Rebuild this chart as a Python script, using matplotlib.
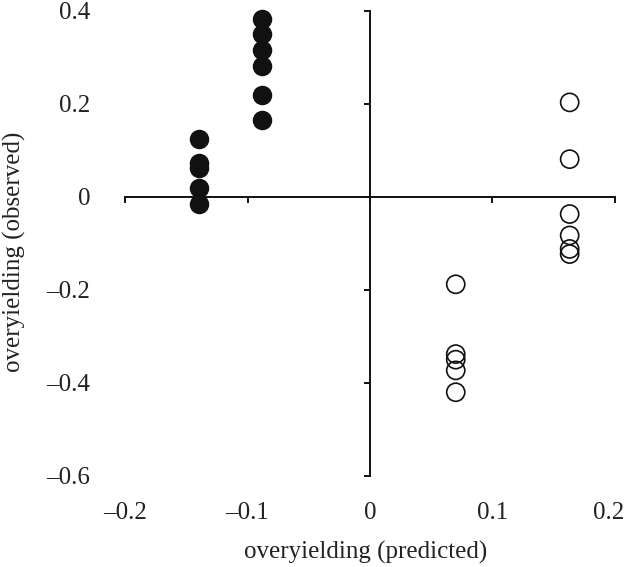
import matplotlib.pyplot as plt
import matplotlib.transforms as mtransforms

plt.rcParams['font.family'] = ['Liberation Serif', 'DejaVu Serif']

# filled: negative predicted overyielding
filled_x = [-0.14, -0.14, -0.14, -0.14, -0.14,
            -0.088, -0.088, -0.088, -0.088, -0.088, -0.088]
filled_y = [0.124, 0.072, 0.062, 0.019, -0.015,
            0.383, 0.35, 0.316, 0.282, 0.219, 0.166]

# open: positive predicted overyielding
open_x = [0.07, 0.07, 0.07, 0.07, 0.07,
          0.163, 0.163, 0.163, 0.163, 0.163, 0.163]
open_y = [-0.188, -0.338, -0.35, -0.373, -0.42,
          0.203, 0.081, -0.037, -0.083, -0.112, -0.123]

x_ticks = [-0.2, -0.1, 0, 0.1, 0.2]
y_ticks = [-0.6, -0.4, -0.2, 0, 0.2, 0.4]
x_labels = ['\u20130.2', '\u20130.1', '0', '0.1', '0.2']
y_labels = ['\u20130.6', '\u20130.4', '\u20130.2', '0', '0.2', '0.4']

fig = plt.figure(figsize=(6.26, 5.67), dpi=100)
rect = [0.1997, 0.1605, 0.7827, 0.8206]

# label axes (labels sit at the outer edges)
lab = fig.add_axes(rect)
lab.set_xlim(-0.2, 0.2)
lab.set_ylim(-0.6, 0.4)
for s in lab.spines.values():
    s.set_visible(False)
lab.set_xticks(x_ticks)
lab.set_xticklabels(x_labels)
lab.set_yticks(y_ticks)
lab.set_yticklabels(y_labels)
lab.tick_params(length=0, labelsize=18, colors='#222222')
lab.tick_params(axis='x', pad=19)
lab.tick_params(axis='y', pad=25)
lab.patch.set_alpha(0)

# last x label is nudged left in the original
last = lab.get_xticklabels()[-1]
last.set_transform(last.get_transform() +
                   mtransforms.ScaledTranslation(-6 / 100, 0, fig.dpi_scale_trans))

lab.set_xlabel('overyielding (predicted)', fontsize=18, color='#222222')
lab.xaxis.set_label_coords(0.492, -0.165)
lab.xaxis.label.set_va('center')
lab.set_ylabel('overyielding (observed)', fontsize=18, color='#222222')
lab.yaxis.set_label_coords(-0.226, 0.481)
lab.yaxis.label.set_va('center')

# main axes with spines crossing at zero
ax = fig.add_axes(rect, sharex=lab, sharey=lab)
ax.patch.set_alpha(0)
ax.spines['left'].set_position(('data', 0))
ax.spines['bottom'].set_position(('data', 0))
ax.spines['top'].set_visible(False)
ax.spines['right'].set_visible(False)
for s in ['left', 'bottom']:
    ax.spines[s].set_linewidth(1.4)
    ax.spines[s].set_color('#111111')
ax.tick_params(direction='out', length=4, width=1.4, color='#111111',
               labelbottom=False, labelleft=False)

ax.scatter(filled_x, filled_y, s=170, c='#111111', edgecolors='#111111',
           linewidths=1.0, zorder=3, clip_on=False)
ax.scatter(open_x, open_y, s=170, facecolors='none', edgecolors='#111111',
           linewidths=1.2, zorder=3, clip_on=False)

fig.savefig('out.png', dpi=100)
